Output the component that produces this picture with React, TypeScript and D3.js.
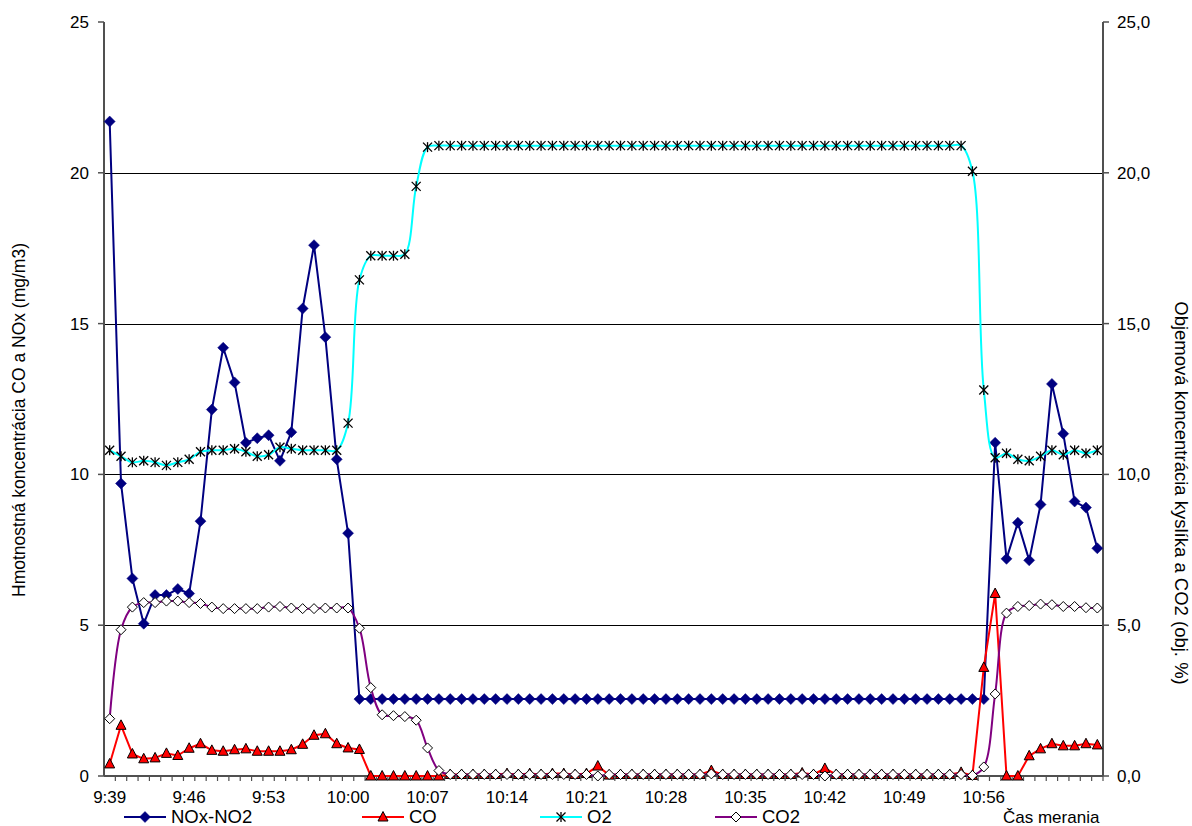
import React from 'react';
import * as d3 from 'd3';

const times = [
  '9:39','9:40','9:41','9:42','9:43','9:44','9:45','9:46','9:47','9:48','9:49','9:50','9:51','9:52','9:53','9:54','9:55','9:56','9:57','9:58','9:59',
  '10:00','10:01','10:02','10:03','10:04','10:05','10:06','10:07','10:08','10:09','10:10','10:11','10:12','10:13','10:14','10:15','10:16','10:17','10:18','10:19',
  '10:20','10:21','10:22','10:23','10:24','10:25','10:26','10:27','10:28','10:29','10:30','10:31','10:32','10:33','10:34','10:35','10:36','10:37','10:38','10:39',
  '10:40','10:41','10:42','10:43','10:44','10:45','10:46','10:47','10:48','10:49','10:50','10:51','10:52','10:53','10:54','10:55','10:56','10:57','10:58','10:59',
  '11:00','11:01','11:02','11:03','11:04','11:05','11:06',
];

// tick labels shown on the x axis
const xTickLabels = ['9:39', '9:46', '9:53', '10:00', '10:07', '10:14', '10:21', '10:28', '10:35', '10:42', '10:49', '10:56'];

// NOx-NO2 (mg/m3), left axis
const noxValues = [
  21.7, 9.7, 6.55, 5.05, 6.0, 6.0, 6.2, 6.05, 8.45, 12.15, 14.2, 13.05, 11.05, 11.2, 11.3, 10.45, 11.4, 15.5, 17.6, 14.55, 10.5, 8.05,
  2.55, 2.55, 2.55, 2.55, 2.55, 2.55, 2.55, 2.55,
  2.55, 2.55, 2.55, 2.55, 2.55, 2.55, 2.55, 2.55,
  2.55, 2.55, 2.55, 2.55, 2.55, 2.55, 2.55, 2.55,
  2.55, 2.55, 2.55, 2.55, 2.55, 2.55, 2.55, 2.55,
  2.55, 2.55, 2.55, 2.55, 2.55, 2.55, 2.55, 2.55,
  2.55, 2.55, 2.55, 2.55, 2.55, 2.55, 2.55, 2.55,
  2.55, 2.55, 2.55, 2.55, 2.55, 2.55, 2.55, 2.55,
  11.05, 7.2, 8.4, 7.15, 9.0, 13.0, 11.35, 9.1, 8.9, 7.55,
];

// CO (mg/m3), left axis
const coValues = [
  0.4, 1.68, 0.73, 0.57, 0.6, 0.75, 0.68, 0.92, 1.07, 0.85, 0.82, 0.87, 0.9, 0.82, 0.82, 0.82, 0.87, 1.05, 1.35, 1.4, 1.07, 0.93, 0.88,
  0, 0, 0, 0, 0, 0, 0,
  0.05, 0.05, 0.05, 0.05, 0.05, 0.08, 0.05, 0.08, 0.05, 0.08,
  0.08, 0.05, 0.08, 0.33, 0.03, 0.05, 0.05, 0.05, 0.05, 0.05,
  0.05, 0.05, 0.05, 0.18, 0.05, 0.05, 0.05, 0.05, 0.05, 0.05,
  0.05, 0.1, 0.05, 0.25, 0.05, 0.05, 0.05, 0.05, 0.05, 0.05,
  0.05, 0.05, 0.05, 0.05, 0.05, 0.12, 0.02,
  3.6, 6.05, 0, 0, 0.67, 0.9, 1.07, 1.0, 1.0, 1.07, 1.03,
];

// O2 (obj. %), right axis
const o2Values = [
  10.8, 10.6, 10.4, 10.45, 10.4, 10.3, 10.4, 10.5, 10.75, 10.8, 10.8, 10.85, 10.75, 10.6, 10.65, 10.9, 10.85, 10.8, 10.8, 10.8, 10.8,
  11.7, 16.45, 17.25, 17.25, 17.25, 17.3, 19.55, 20.85,
  20.9, 20.9, 20.9, 20.9, 20.9, 20.9, 20.9, 20.9, 20.9, 20.9,
  20.9, 20.9, 20.9, 20.9, 20.9, 20.9, 20.9, 20.9, 20.9, 20.9,
  20.9, 20.9, 20.9, 20.9, 20.9, 20.9, 20.9, 20.9, 20.9, 20.9,
  20.9, 20.9, 20.9, 20.9, 20.9, 20.9, 20.9, 20.9, 20.9, 20.9,
  20.9, 20.9, 20.9, 20.9, 20.9, 20.9, 20.9,
  20.05, 12.8, 10.55, 10.7, 10.5, 10.45, 10.6, 10.8, 10.65, 10.8, 10.7, 10.8,
];

// CO2 (obj. %), right axis
const co2Values = [
  1.9, 4.85, 5.6, 5.75, 5.75, 5.8, 5.8, 5.75, 5.72, 5.6, 5.55, 5.55, 5.55, 5.55, 5.6, 5.62, 5.57, 5.55, 5.55, 5.57, 5.57, 5.57,
  4.9, 2.93, 2.03, 2.0, 1.97, 1.85, 0.93, 0.18,
  0.05, 0.05, 0.05, 0.05, 0.05, 0.05, 0.05, 0.05, 0.05, 0.05,
  0.05, 0.05, 0.05, 0.0, 0.05, 0.05, 0.05, 0.05, 0.05, 0.05,
  0.05, 0.05, 0.05, 0.07, 0.05, 0.05, 0.05, 0.05, 0.05, 0.05,
  0.05, 0.05, 0.05, 0.0, 0.05, 0.05, 0.05, 0.05, 0.05, 0.05,
  0.05, 0.05, 0.05, 0.05, 0.05, 0.05, 0.02,
  0.3, 2.72, 5.4, 5.62, 5.65, 5.7, 5.68, 5.62, 5.62, 5.58, 5.57,
];

const leftTicks = [0, 5, 10, 15, 20, 25];
const rightTicks = [0, 5, 10, 15, 20, 25];
const gridValues = [5, 10, 15, 20];

const leftTitle = 'Hmotnostná koncentrácia CO a NOx (mg/m3)';
const rightTitle = 'Objemová koncentrácia kyslíka a CO2 (obj. %)';
const xTitle = 'Čas merania';

type Marker = 'diamond' | 'triangle' | 'star' | 'openDiamond';
interface Series { name: string; values: number[]; color: string; marker: Marker; axis: 'L' | 'R'; smooth: boolean; }

const series: Series[] = [
  { name: 'NOx-NO2', values: noxValues, color: '#000080', marker: 'diamond', axis: 'L', smooth: false },
  { name: 'CO', values: coValues, color: '#FF0000', marker: 'triangle', axis: 'L', smooth: false },
  { name: 'O2', values: o2Values, color: '#00FFFF', marker: 'star', axis: 'R', smooth: true },
  { name: 'CO2', values: co2Values, color: '#800080', marker: 'openDiamond', axis: 'R', smooth: true },
];

const FONT = '"Liberation Sans", Arial, Helvetica, sans-serif';

function MarkerShape({ type, x, y }: { type: Marker; x: number; y: number }) {
  if (type === 'diamond') {
    return <path d={`M${x},${y - 5.5}L${x + 5.5},${y}L${x},${y + 5.5}L${x - 5.5},${y}Z`} fill="#000080" stroke="#000080" strokeWidth={0.5} />;
  }
  if (type === 'openDiamond') {
    return <path d={`M${x},${y - 5}L${x + 5},${y}L${x},${y + 5}L${x - 5},${y}Z`} fill="#fff" stroke="#000" strokeWidth={1} />;
  }
  if (type === 'triangle') {
    return <path d={`M${x},${y - 5.5}L${x + 5},${y + 4}L${x - 5},${y + 4}Z`} fill="#FF0000" stroke="#000" strokeWidth={1} />;
  }
  return (
    <g stroke="#000" strokeWidth={1.3}>
      <line x1={x - 4.5} y1={y - 4.5} x2={x + 4.5} y2={y + 4.5} />
      <line x1={x - 4.5} y1={y + 4.5} x2={x + 4.5} y2={y - 4.5} />
      <line x1={x} y1={y - 5} x2={x} y2={y + 5} />
    </g>
  );
}

export default function App() {
  const W = 1192, H = 826;
  const left = 104, right = 1103, top = 22, bottom = 776;

  const x = d3.scaleBand<string>().domain(times).range([left, right]).paddingInner(0).paddingOuter(0);
  const bw = x.bandwidth();
  const cx = (i: number) => (x(times[i]) as number) + bw / 2;
  const yL = d3.scaleLinear().domain([0, 25]).range([bottom, top]);
  const yR = d3.scaleLinear().domain([0, 25]).range([bottom, top]);
  const fmtR = (v: number) => d3.format('.1f')(v).replace('.', ',');

  const axisColor = '#505050';

  return (
    <div style={{ position: 'absolute', left: 0, top: 0, width: W, height: H, background: '#fff' }}>
      <svg width={W} height={H} style={{ display: 'block', fontFamily: FONT }}>
        <rect x={0} y={0} width={W} height={H} fill="#fff" />
        {/* gridlines */}
        {gridValues.map((v) => (
          <line key={'g' + v} x1={left} x2={right} y1={Math.round(yL(v)) + 0.5} y2={Math.round(yL(v)) + 0.5} stroke="#000" strokeWidth={1} />
        ))}
        {/* axes */}
        <line x1={left} x2={left} y1={top} y2={bottom} stroke={axisColor} strokeWidth={2} />
        <line x1={right} x2={right} y1={top} y2={bottom} stroke={axisColor} strokeWidth={2} />
        <line x1={left} x2={right} y1={bottom} y2={bottom} stroke={axisColor} strokeWidth={2} />
        {leftTicks.map((v) => (
          <g key={'lt' + v}>
            <line x1={left - 6} x2={left} y1={yL(v)} y2={yL(v)} stroke={axisColor} strokeWidth={1.5} />
            <text x={89} y={yL(v)} dy="0.35em" textAnchor="end" fontSize={17} fill="#000">{v}</text>
          </g>
        ))}
        {rightTicks.map((v) => (
          <g key={'rt' + v}>
            <line x1={right} x2={right + 6} y1={yR(v)} y2={yR(v)} stroke={axisColor} strokeWidth={1.5} />
            <text x={1117} y={yR(v)} dy="0.35em" textAnchor="start" fontSize={17} fill="#000">{fmtR(v)}</text>
          </g>
        ))}
        {times.map((t, i) => (
          <line key={'xt' + i} x1={(x(t) as number) + bw} x2={(x(t) as number) + bw} y1={bottom} y2={bottom + 5} stroke={axisColor} strokeWidth={1.2} />
        ))}
        {xTickLabels.map((t) => (
          <text key={'xl' + t} x={cx(times.indexOf(t))} y={803} textAnchor="middle" fontSize={17} fill="#000">{t}</text>
        ))}

        {/* series */}
        {series.map((s) => {
          const ys = s.axis === 'L' ? yL : yR;
          const line = d3.line<number>().x((_, i) => cx(i)).y((v) => ys(v)).curve(s.smooth ? d3.curveCatmullRom.alpha(0.5) : d3.curveLinear);
          return (
            <g key={s.name}>
              <path d={line(s.values) || ''} fill="none" stroke={s.color} strokeWidth={2} strokeLinejoin="round" />
              {s.values.map((v, i) => (
                <MarkerShape key={i} type={s.marker} x={cx(i)} y={ys(v)} />
              ))}
            </g>
          );
        })}

        {/* axis titles */}
        <text transform="translate(25,420) rotate(-90)" textAnchor="middle" fontSize={17.5} fill="#000">{leftTitle}</text>
        <text transform="translate(1175,493) rotate(90)" textAnchor="middle" fontSize={18.5} fill="#000">{rightTitle}</text>

        {/* legend */}
        {series.map((s, k) => {
          const lx = [124, 362, 540, 715][k];
          const ly = 817;
          return (
            <g key={'lg' + s.name}>
              <line x1={lx} x2={lx + 42} y1={ly} y2={ly} stroke={s.color} strokeWidth={2} />
              <MarkerShape type={s.marker} x={lx + 21} y={ly} />
              <text x={lx + 47} y={ly} dy="0.35em" fontSize={18.5} fill="#000">{s.name}</text>
            </g>
          );
        })}
        <text x={1003} y={817} dy="0.35em" fontSize={17} fill="#000">{xTitle}</text>
      </svg>
    </div>
  );
}
